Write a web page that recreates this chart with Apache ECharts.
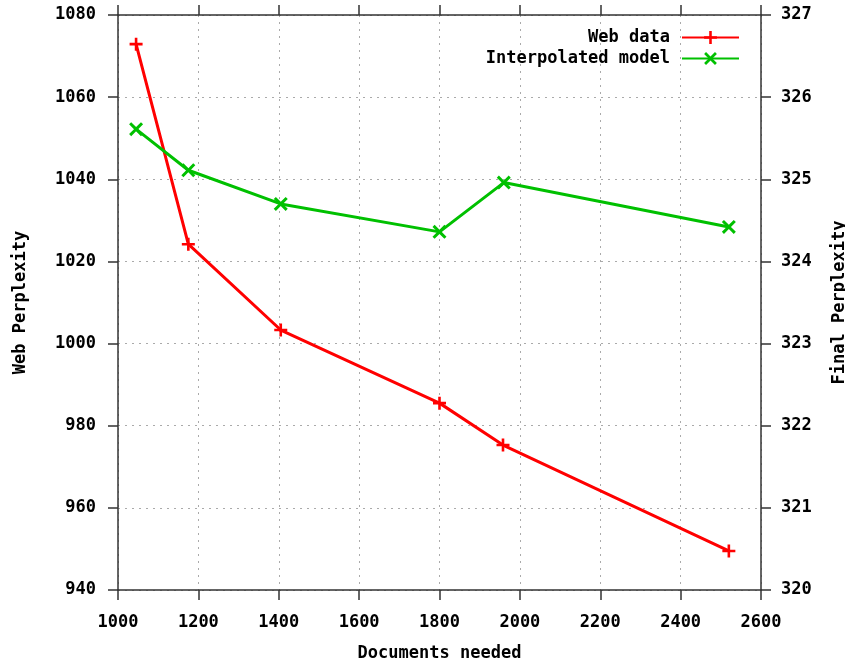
<!DOCTYPE html>
<html>
<head>
<meta charset="utf-8">
<script src="https://cdn.jsdelivr.net/npm/echarts@6/dist/echarts.min.js"></script>
<style>html,body{margin:0;padding:0;background:#fff;}#c{width:845px;height:664px;}</style>
</head>
<body>
<div id="c"></div>
<script>
const docsWeb = [1045, 1175, 1405, 1800, 1958, 2520];
const webPerplexity = [1072.9, 1024.2, 1003.3, 985.5, 975.3, 949.5];
const docsModel = [1045, 1175, 1405, 1800, 1960, 2520];
const finalPerplexity = [325.61, 325.11, 324.70, 324.36, 324.96, 324.42];

const FONT = '"DejaVu Sans Mono", monospace';
const txt = {color: '#000', fontFamily: FONT, fontWeight: 'bold', fontSize: 17};
const plusPath = 'path://M4,0H6V4H10V6H6V10H4V6H0V4H4Z';
const xPath = 'path://M0,1.5L1.5,0L5,3.5L8.5,0L10,1.5L6.5,5L10,8.5L8.5,10L5,6.5L1.5,10L0,8.5L3.5,5Z';
const axisLineStyle = {color: '#333', width: 1.5};
const gridLine = {show: true, lineStyle: {color: '#aaa', type: [2, 5], width: 1}};
const plain = v => String(v);

const chart = echarts.init(document.getElementById('c'), null, {renderer: 'canvas'});
chart.setOption({
  animation: false,
  backgroundColor: '#fff',
  grid: {left: 118, right: 84, top: 15, bottom: 74, containLabel: false, outerBoundsMode: 'none'},
  legend: {
    orient: 'vertical', align: 'right', right: 100, top: 24,
    itemWidth: 57, itemHeight: 16, itemGap: 4,
    textStyle: Object.assign({padding: [0, 7, 0, 0]}, txt),
    data: ['Web data', 'Interpolated model']
  },
  xAxis: [{
    type: 'value', min: 1000, max: 2600, interval: 200,
    name: 'Documents needed', nameLocation: 'middle', nameGap: 55, nameTextStyle: txt,
    axisLine: {show: true, lineStyle: axisLineStyle},
    axisTick: {show: true, length: 10, lineStyle: axisLineStyle},
    axisLabel: Object.assign({margin: 24, formatter: plain}, txt),
    splitLine: gridLine
  }, {
    type: 'value', min: 1000, max: 2600, interval: 200, position: 'top',
    axisLine: {show: true, lineStyle: axisLineStyle},
    axisTick: {show: true, length: 10, lineStyle: axisLineStyle},
    axisLabel: {show: false}, splitLine: {show: false}
  }],
  yAxis: [{
    type: 'value', min: 940, max: 1080, interval: 20,
    name: 'Web Perplexity', nameLocation: 'middle', nameGap: 89, nameTextStyle: txt,
    axisLine: {show: true, lineStyle: axisLineStyle},
    axisTick: {show: true, length: 10, lineStyle: axisLineStyle},
    axisLabel: Object.assign({margin: 22, formatter: plain}, txt),
    splitLine: gridLine
  }, {
    type: 'value', min: 320, max: 327, interval: 1, position: 'right',
    name: 'Final Perplexity', nameLocation: 'middle', nameGap: 70, nameTextStyle: txt,
    axisLine: {show: true, lineStyle: axisLineStyle},
    axisTick: {show: true, length: 10, lineStyle: axisLineStyle},
    axisLabel: Object.assign({margin: 20, formatter: plain}, txt),
    splitLine: {show: false}
  }],
  series: [{
    name: 'Web data', type: 'line', xAxisIndex: 0, yAxisIndex: 0,
    data: docsWeb.map((x, i) => [x, webPerplexity[i]]),
    symbol: plusPath, symbolSize: 13,
    lineStyle: {color: '#ff0000', width: 3},
    itemStyle: {color: '#ff0000'}
  }, {
    name: 'Interpolated model', type: 'line', xAxisIndex: 0, yAxisIndex: 1,
    data: docsModel.map((x, i) => [x, finalPerplexity[i]]),
    symbol: xPath, symbolSize: 14,
    lineStyle: {color: '#00c000', width: 3},
    itemStyle: {color: '#00c000'}
  }]
});
</script>
</body>
</html>
